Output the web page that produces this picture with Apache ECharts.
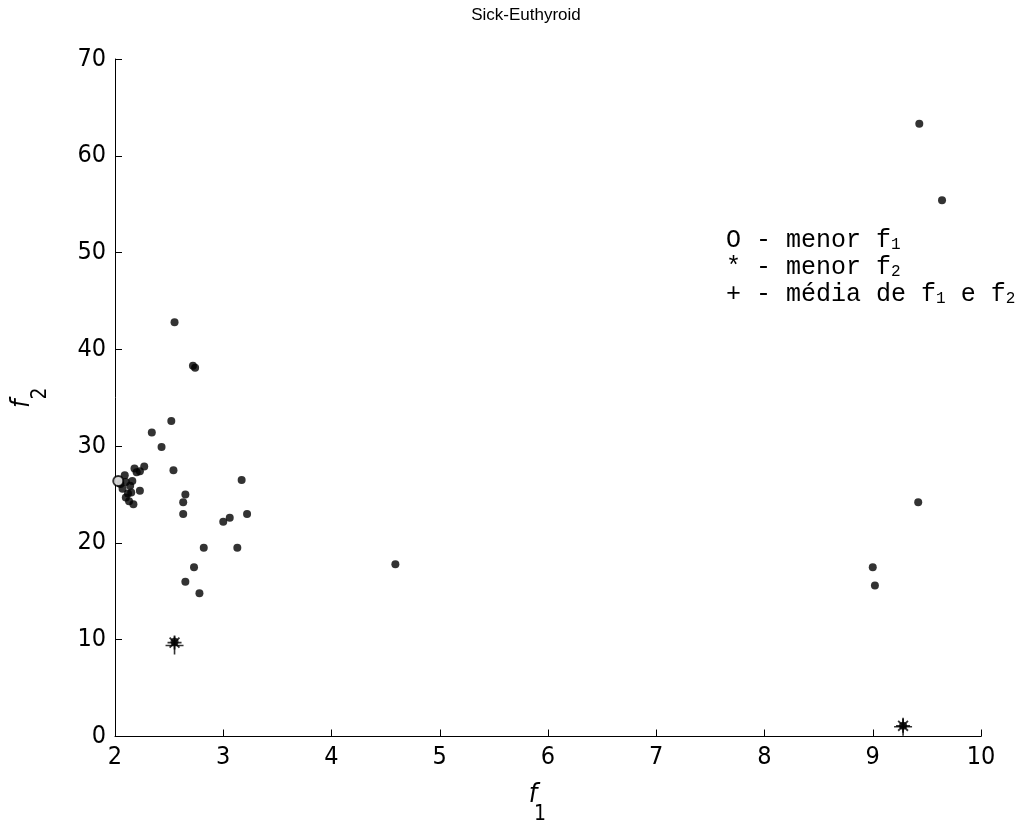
<!DOCTYPE html>
<html>
<head>
<meta charset="utf-8">
<script src="https://cdn.jsdelivr.net/npm/echarts@6/dist/echarts.min.js"></script>
<style>
  html, body { margin: 0; padding: 0; background: #fff; }
  #chart { width: 1034px; height: 830px; }
</style>
</head>
<body>
<div id="chart"></div>
<script>
// Sick-Euthyroid scatter: f1 vs f2.
const f1 = [
  9.43, 9.64, 9.42, 9.00, 9.02, 4.59,
  2.55, 2.72, 2.74, 2.52, 2.34, 2.43, 2.54, 3.17, 2.65, 2.63, 2.63, 3.22,
  3.00, 3.06, 2.82, 3.13, 2.73, 2.65, 2.78,
  2.18, 2.23, 2.27, 2.20, 2.23,
  2.09, 2.10, 2.05, 2.14, 2.07, 2.12, 2.15, 2.13, 2.17, 2.10, 2.03, 2.16,
  2.55, 9.28,
];
const f2 = [
  63.3, 55.4, 24.2, 17.5, 15.6, 17.8,
  42.8, 38.3, 38.1, 32.6, 31.4, 29.9, 27.5, 26.5, 25.0, 24.2, 23.0, 23.0,
  22.2, 22.6, 19.5, 19.5, 17.5, 16.0, 14.8,
  27.7, 27.4, 27.9, 27.3, 25.4,
  27.0, 26.3, 26.1, 25.9, 25.6, 25.1, 25.2, 24.3, 24.0, 24.7, 26.5, 26.4,
  9.8, 1.1,
];

// special markers: O = menor f1, * = menor f2, + = media de f1 e f2
const minF1 = [[2.03, 26.4]];
const minF2 = [[2.55, 9.7], [9.28, 1.1]];
const meanF = [[2.55, 9.4], [9.28, 1.0]];

const xTicks = [2, 3, 4, 5, 6, 7, 8, 9, 10];
const yTicks = [0, 10, 20, 30, 40, 50, 60, 70];

// legend lines: even parts normal, odd parts subscript
const legendLines = [
  ["O - menor f", "1"],
  ["* - menor f", "2"],
  ["+ - média de f", "1", " e f", "2"],
];

const TICK_FONT = "'Liberation Sans Narrow', 'DejaVu Sans Condensed', 'Liberation Sans', sans-serif";
const MONO = "'Liberation Mono', 'DejaVu Sans Mono', monospace";

const points = f1.map((x, i) => [x, f2[i]]);

const STAR = "path://M0,-1L0,1M-1,0L1,0M-0.7,-0.7L0.7,0.7M-0.7,0.7L0.7,-0.7";
const PLUS = "path://M0,-1L0,1M-1,0L1,0";

function legendText(parts) {
  return parts.map((p, i) => (i % 2 === 0 ? "{m|" + p + "}" : "{s|" + p + "}")).join("");
}

const axisCommon = {
  axisLine: { lineStyle: { color: "#000", width: 1 } },
  axisTick: { inside: true, length: 7, lineStyle: { color: "#000" } },
  axisLabel: { color: "#000", fontSize: 25, fontFamily: TICK_FONT },
  splitLine: { show: false },
};

const chart = echarts.init(document.getElementById("chart"), null, { renderer: "canvas" });
chart.setOption({
  backgroundColor: "#fff",
  animation: false,
  title: {
    text: "Sick-Euthyroid",
    left: 521, top: 2, textAlign: "center",
    textStyle: { fontSize: 17, fontWeight: "normal", color: "#000",
                 fontFamily: "'Liberation Sans', Arial, sans-serif" },
  },
  grid: { left: 112, right: 53, top: 59, bottom: 86 },
  xAxis: Object.assign({}, axisCommon, {
    type: "value", min: xTicks[0], max: xTicks[xTicks.length - 1], interval: 1,
    axisLabel: Object.assign({}, axisCommon.axisLabel, { margin: 8 }),
    name: "{i|f}\n{s|1}",
    nameLocation: "middle", nameGap: 48,
    nameTextStyle: {
      padding: [0, 30, 0, 0],
      rich: {
        i: { fontSize: 27, fontStyle: "italic", color: "#000", fontFamily: TICK_FONT, lineHeight: 20 },
        s: { fontSize: 21, color: "#000", fontFamily: TICK_FONT, padding: [0, 0, 0, 14], lineHeight: 20 },
      },
    },
  }),
  yAxis: Object.assign({}, axisCommon, {
    type: "value", min: yTicks[0], max: yTicks[yTicks.length - 1], interval: 10,
    axisLabel: Object.assign({}, axisCommon.axisLabel, { margin: 9 }),
    name: "{i|f}{s|2}",
    nameLocation: "middle", nameGap: 80,
    nameTextStyle: {
      rich: {
        i: { fontSize: 27, fontStyle: "italic", color: "#000", fontFamily: TICK_FONT },
        s: { fontSize: 21, color: "#000", fontFamily: TICK_FONT, verticalAlign: "bottom", padding: [0, 0, -16, 0] },
      },
    },
  }),
  series: [
    {
      type: "scatter", data: points, symbol: "circle", symbolSize: 8,
      itemStyle: { color: "#000" },
    },
    {
      type: "scatter", data: minF1, symbol: "emptyCircle", symbolSize: 10,
      itemStyle: { color: "#000", borderColor: "#000", borderWidth: 1 },
    },
    {
      type: "scatter", data: minF2, symbol: STAR, symbolSize: 14,
      itemStyle: { color: "none", borderColor: "#000", borderWidth: 1.8 },
    },
    {
      type: "scatter", data: meanF, symbol: PLUS, symbolSize: 18,
      itemStyle: { color: "none", borderColor: "#000", borderWidth: 1.6 },
    },
  ],
  graphic: legendLines.map((parts, i) => ({
    type: "text", left: 726, top: 228 + i * 27,
    style: {
      text: legendText(parts),
      rich: {
        m: { fontSize: 25, fontFamily: MONO, fill: "#000", verticalAlign: "bottom", lineHeight: 28 },
        s: { fontSize: 16, fontFamily: MONO, fill: "#000", verticalAlign: "bottom", lineHeight: 22 },
      },
    },
  })),
});
</script>
</body>
</html>
